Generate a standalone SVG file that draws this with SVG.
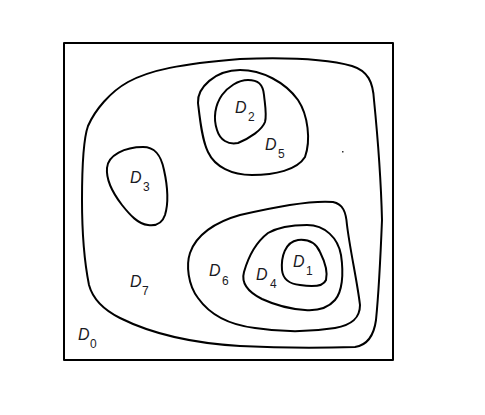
<svg xmlns="http://www.w3.org/2000/svg" width="485" height="415" viewBox="0 0 485 415">
<style>
.c{fill:none;stroke:#000;stroke-width:2;stroke-linejoin:round}
.d{font-family:"Liberation Sans",Arial,sans-serif;font-style:italic;font-size:16px;fill:#1a1a24}
.s{font-family:"Liberation Sans",Arial,sans-serif;font-size:12px;fill:#1a1a24}
</style>
<rect width="485" height="415" fill="#fff"/>
<g id="D0">
<rect class="c" x="64" y="43" width="329" height="317"/>
<text class="d" x="78" y="340">D</text><text class="s" x="90" y="348">0</text>
</g>
<g id="D7">
<path class="c" d="M 82,200 C 82,165 83,140 88,126 C 95,110 110,92 128,82 C 150,70 180,64 240,59 C 290,57 330,60 352,66 C 368,71 373,82 374,100 C 378,140 381,180 382,220 C 380,270 378,300 376,320 C 374,335 368,345 355,347 C 320,348 280,348 240,346 C 190,343 150,333 120,318 C 100,308 92,296 89,285 C 85,265 82,240 82,200 Z"/>
<text class="d" x="130" y="287">D</text><text class="s" x="142" y="295">7</text>
</g>
<g id="D5">
<path class="c" d="M 240,70 C 262,70 285,82 298,100 C 308,115 311,140 305,157 C 297,170 275,175 252,175 C 232,175 215,167 208,152 C 202,140 200,120 198,103 C 197,88 215,70 240,70 Z"/>
<text class="d" x="265" y="150">D</text><text class="s" x="278" y="158">5</text>
</g>
<g id="D2">
<path class="c" d="M 248,80 C 258,80 263,84 264,95 C 265,105 267,115 265,122 C 262,130 250,138 238,143 C 228,145 220,140 217,130 C 213,118 215,105 222,95 C 228,87 238,80 248,80 Z"/>
<text class="d" x="235" y="113">D</text><text class="s" x="248" y="121">2</text>
</g>
<g id="D3">
<path class="c" d="M 143,147 C 155,147 161,155 164,170 C 168,188 168,205 165,215 C 162,224 155,226 148,225 C 138,224 130,215 122,205 C 112,192 106,180 107,168 C 108,155 125,147 143,147 Z"/>
<text class="d" x="130" y="183">D</text><text class="s" x="143" y="191">3</text>
</g>
<g id="D6">
<path class="c" d="M 240,215 C 270,208 310,200 333,202 C 343,204 346,212 347,225 C 350,250 357,280 360,305 C 360,318 352,325 335,328 C 310,332 280,332 255,328 C 230,325 210,315 198,298 C 188,285 186,265 190,253 C 196,235 215,222 240,215 Z"/>
<text class="d" x="209" y="276">D</text><text class="s" x="222" y="285">6</text>
</g>
<g id="D4">
<path class="c" d="M 307,225 C 325,225 338,238 341,255 C 344,275 342,292 335,300 C 328,308 318,311 305,310 C 290,309 275,305 262,299 C 248,292 241,283 244,272 C 248,258 255,243 268,233 C 280,226 295,225 307,225 Z"/>
<text class="d" x="256" y="280">D</text><text class="s" x="270" y="288">4</text>
</g>
<g id="D1">
<path class="c" d="M 298,240 C 308,239 316,243 320,252 C 325,262 328,272 326,280 C 323,287 312,287 300,285 C 290,284 283,280 282,270 C 281,257 285,242 298,240 Z"/>
<text class="d" x="293" y="267">D</text><text class="s" x="306" y="275">1</text>
</g>
<g id="connectors"></g>
<rect x="342" y="151" width="1.5" height="1.5" fill="#333"/>
</svg>
